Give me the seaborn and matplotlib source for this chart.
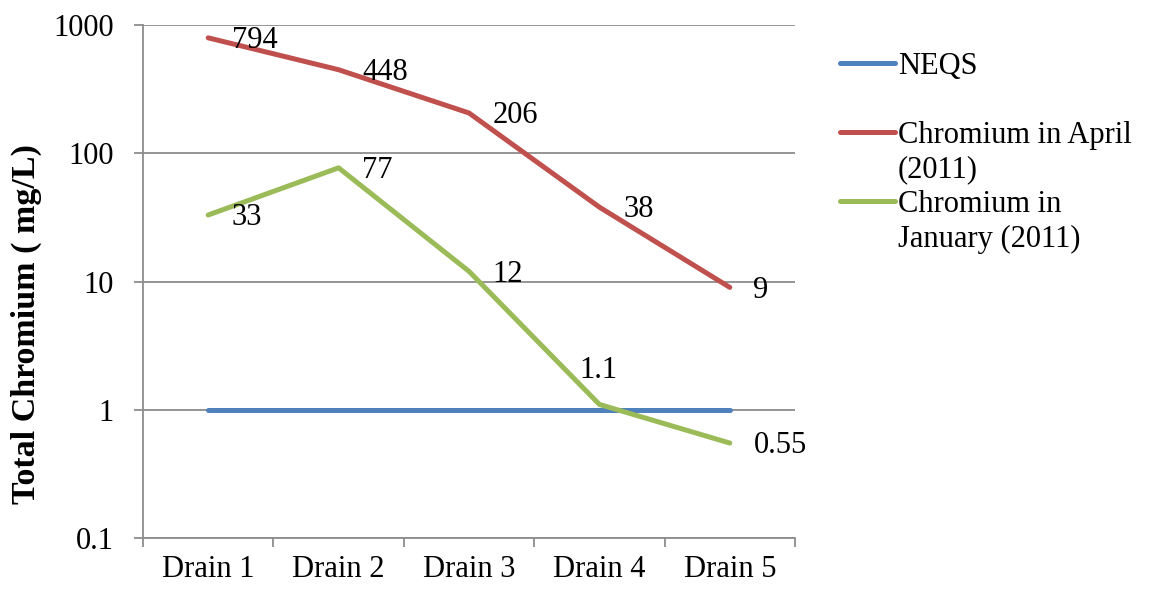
import numpy as np
import pandas as pd
import matplotlib
matplotlib.use("Agg")
import matplotlib.pyplot as plt
from matplotlib.lines import Line2D
from matplotlib.ticker import FixedLocator, NullLocator, FuncFormatter
import seaborn as sns

# Sampling points and measured total chromium (mg/L)
drains = ["Drain 1", "Drain 2", "Drain 3", "Drain 4", "Drain 5"]
neqs = [1, 1, 1, 1, 1]
april_2011 = [794, 448, 206, 38, 9]
january_2011 = [33, 77, 12, 1.1, 0.55]
april_labels = ["794", "448", "206", "38", "9"]
january_labels = ["33", "77", "12", "1.1", "0.55"]
y_ticks = [0.1, 1, 10, 100, 1000]

series_names = ["NEQS", "Chromium in April (2011)", "Chromium in January (2011)"]
colors = {"NEQS": "#4F81BD",
          "Chromium in April (2011)": "#C0504D",
          "Chromium in January (2011)": "#9BBB59"}

frames = []
for name, vals in zip(series_names, [neqs, april_2011, january_2011]):
    frames.append(pd.DataFrame({"drain": drains, "value": vals, "series": name}))
df = pd.concat(frames, ignore_index=True)
df["pos"] = pd.Categorical(df["drain"], categories=drains).codes

sns.set_style("white")
plt.rcParams["font.family"] = ["Liberation Serif", "DejaVu Serif"]
plt.rcParams["text.color"] = "black"
plt.rcParams["axes.labelcolor"] = "black"
plt.rcParams["xtick.labelcolor"] = "black"
plt.rcParams["ytick.labelcolor"] = "black"

FS = 22
GRID = "#8C8C8C"

fig = plt.figure(figsize=(11.52, 5.9), dpi=100)
ax = fig.add_axes([143 / 1152, 52 / 590, 652 / 1152, 513 / 590])

sns.lineplot(data=df, x="pos", y="value", hue="series", hue_order=series_names,
             palette=colors, linewidth=3.6, legend=False, ax=ax,
             solid_capstyle="round", solid_joinstyle="round", sort=False)

ax.set_yscale("log")
ax.set_ylim(0.1, 1000)
ax.set_xlim(-0.5, len(drains) - 0.5)

# y axis: decade gridlines with plain-number labels
ax.yaxis.set_major_locator(FixedLocator(y_ticks))
ax.yaxis.set_minor_locator(NullLocator())
ax.yaxis.set_major_formatter(FuncFormatter(lambda v, p: f"{v:g}"))
ax.grid(axis="y", color=GRID, linewidth=1.3)
ax.grid(axis="x", visible=False)
ax.set_axisbelow(True)

# x axis: ticks on category boundaries, labels at category centres
ax.xaxis.set_major_locator(FixedLocator(np.arange(len(drains) + 1) - 0.5))
ax.xaxis.set_major_formatter(FuncFormatter(lambda v, p: ""))
ax.xaxis.set_minor_locator(FixedLocator(np.arange(len(drains))))
ax.set_xticklabels(drains, minor=True)

ax.tick_params(axis="y", which="major", direction="out", length=6.5, width=1.3,
               color=GRID, pad=14.5, labelsize=FS, left=True, labelcolor="black")
ax.tick_params(axis="x", which="major", direction="out", length=6.5, width=1.3,
               color=GRID, bottom=True)
ax.tick_params(axis="x", which="minor", length=0, pad=12, labelsize=FS,
               labelcolor="black")

for side in ["top", "right"]:
    ax.spines[side].set_visible(False)
for side in ["left", "bottom"]:
    ax.spines[side].set_color(GRID)
    ax.spines[side].set_linewidth(1.3)

ax.set_xlabel("")
ax.set_ylabel("Total Chromium ( mg/L)", fontsize=24.5, fontweight="bold",
              color="black")
ax.yaxis.label.set_va("center")
ax.yaxis.set_label_coords((26 - 143) / 652, (538 - 324.5) / 513)

# Value labels
for i, (v, lab) in enumerate(zip(april_2011, april_labels)):
    ax.annotate(lab, (i, v), xytext=(17, -2), textcoords="offset points",
                ha="left", va="center", fontsize=FS, color="black")
for i, (v, lab) in enumerate(zip(january_2011, january_labels)):
    if lab == "1.1":
        ax.annotate(lab, (i, v), xytext=(-1, 24.5), textcoords="offset points",
                    ha="center", va="center", fontsize=FS, color="black")
    else:
        ax.annotate(lab, (i, v), xytext=(17, -2), textcoords="offset points",
                    ha="left", va="center", fontsize=FS, color="black")

# Legend with wrapped entries (continuation lines carry no handle)
blank = Line2D([], [], color="none")
handles = [
    Line2D([], [], color=colors["NEQS"], linewidth=3.6, solid_capstyle="round"),
    blank,
    Line2D([], [], color=colors["Chromium in April (2011)"], linewidth=3.6, solid_capstyle="round"),
    blank,
    Line2D([], [], color=colors["Chromium in January (2011)"], linewidth=3.6, solid_capstyle="round"),
    blank,
]
labels = ["NEQS", " ", "Chromium in April", "(2011)", "Chromium in", "January (2011)"]
leg = fig.legend(handles, labels, loc="upper left",
                 bbox_to_anchor=(840 / 1152, 1 - 52 / 590),
                 bbox_transform=fig.transFigure, frameon=False, fontsize=FS,
                 borderpad=0, borderaxespad=0, handlelength=1.8, handletextpad=0.1,
                 labelspacing=0.18)
for t in leg.get_texts():
    t.set_color("black")

fig.savefig("out.png", dpi=100)
